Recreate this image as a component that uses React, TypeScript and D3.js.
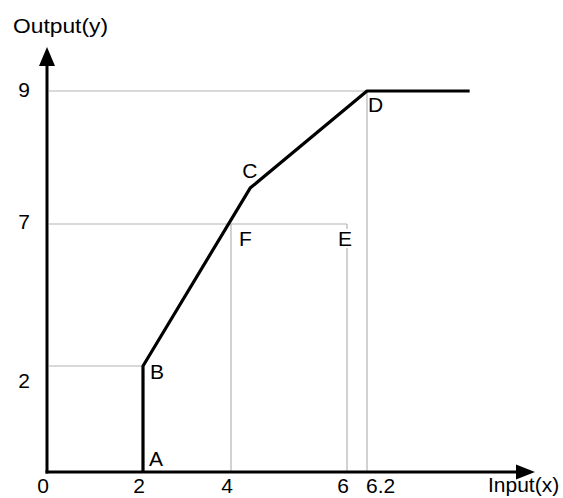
import React from "react";
import { scaleLinear, line } from "d3";

// chart values
const xTicks = [0, 2, 4, 6, 6.2];
const yTicks = [2, 7, 9];
const curveX = [2, 2, 4.33, 6.2, 7.3];
const curveY = [0, 2, 7.54, 9, 9];
const pointNames = ["A", "B", "C", "D", "F", "E"];
const pointX = [2, 2, 4.33, 6.2, 4, 6];
const pointY = [0, 2, 7.54, 9, 7, 7];

const W = 563;
const H = 498;
const font = "'Liberation Sans', Arial, sans-serif";

// the drawing is not to scale, so the scales are piecewise
const x = scaleLinear().domain([0, 2, 4, 6, 6.2, 8]).range([47, 143, 231, 347, 367, 535]);
const y = scaleLinear().domain([0, 2, 7, 9, 10]).range([472, 366, 224, 91, 47]);

// label nudges relative to their point
const labelDx = [6, 7, -8, 1, 8, -9];
const labelDy = [-6, 13, -10, 21, 22, 22];
const yLabelDy = [22, 5, 6];

function App() {
  const path = line<number>()
    .x((d, i) => x(curveX[i]))
    .y((d, i) => y(curveY[i]));

  const grid = "#b4b4b4";

  return (
    <svg width={W} height={H} style={{ position: "absolute", left: 0, top: 0, background: "#fff" }} fontFamily={font}>
      {/* guide lines */}
      <g stroke={grid} strokeWidth={1.2}>
        <line x1={x(0) + 2} x2={x(6.2)} y1={y(9)} y2={y(9)} />
        <line x1={x(0) + 2} x2={x(6)} y1={y(7)} y2={y(7)} />
        <line x1={x(0) + 2} x2={x(2)} y1={y(2)} y2={y(2)} />
        <line x1={x(4)} x2={x(4)} y1={y(7)} y2={y(0)} />
        <line x1={x(6)} x2={x(6)} y1={y(7)} y2={y(0)} />
        <line x1={x(6.2)} x2={x(6.2)} y1={y(9)} y2={y(0)} />
      </g>

      {/* axes with arrows */}
      <line x1={x(0)} x2={x(0)} y1={y(0) + 1.5} y2={y(10) + 14} stroke="#000" strokeWidth={3} />
      <path d={`M${x(0)},${y(10)} L${x(0) - 8},${y(10) + 19} L${x(0) + 8},${y(10) + 19} Z`} fill="#000" />
      <line x1={x(0) - 1.5} x2={x(8) - 14} y1={y(0)} y2={y(0)} stroke="#000" strokeWidth={3} />
      <path d={`M${x(8)},${y(0)} L${x(8) - 19},${y(0) - 7.5} L${x(8) - 19},${y(0) + 7.5} Z`} fill="#000" />

      {/* response curve */}
      <path d={path(curveX) || ""} fill="none" stroke="#000" strokeWidth={3.2} strokeLinejoin="round" />

      {/* point labels */}
      {pointNames.map((n, i) => {
        const px = x(pointX[i]) + labelDx[i];
        const py = y(pointY[i]) + labelDy[i];
        return (
          <g key={n}>
            {n === "E" && <rect x={px - 1} y={py - 17} width={17} height={19} fill="#fff" />}
            <text x={px} y={py} fontSize={21} fill="#000">{n}</text>
          </g>
        );
      })}

      {/* tick labels */}
      {xTicks.map((t) => (
        <text key={t} x={t === 6.2 ? x(t) - 1 : x(t) - 4} y={493} fontSize={21}
          textAnchor={t === 6.2 ? "start" : "middle"}>{t}</text>
      ))}
      {yTicks.map((t, i) => (
        <text key={t} x={24} y={y(t) + yLabelDy[i]} fontSize={21} textAnchor="middle">{t}</text>
      ))}

      <text x={13} y={33} fontSize={21} textLength={95} lengthAdjust="spacingAndGlyphs">Output(y)</text>
      <text x={488} y={492} fontSize={21}>Input(x)</text>
    </svg>
  );
}

export default App;
